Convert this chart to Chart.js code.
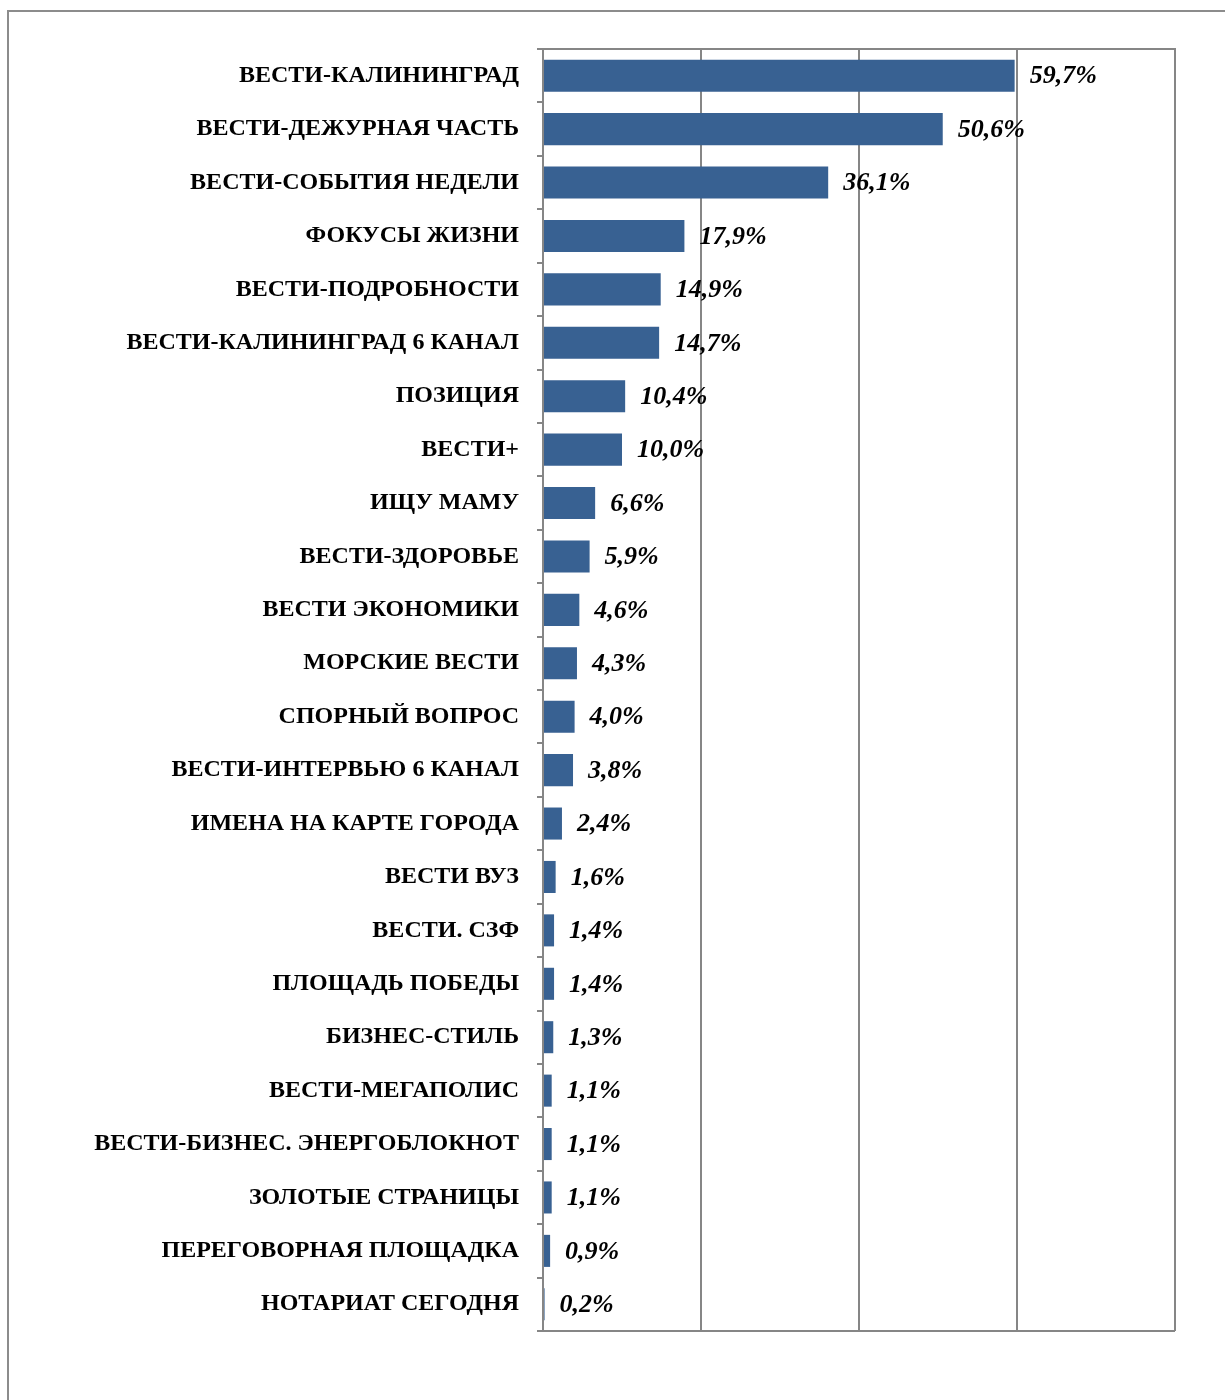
<!DOCTYPE html>
<html>
<head>
<meta charset="utf-8">
<script src="https://cdn.jsdelivr.net/npm/chart.js@4/dist/chart.umd.min.js"></script>
<style>
html,body{margin:0;padding:0;background:#fff;}
#wrap{width:1225px;height:1400px;position:relative;}
</style>
</head>
<body>
<div id="wrap"><canvas id="c" width="1225" height="1400"></canvas></div>
<script>
const categories = [
  "ВЕСТИ-КАЛИНИНГРАД",
  "ВЕСТИ-ДЕЖУРНАЯ ЧАСТЬ",
  "ВЕСТИ-СОБЫТИЯ НЕДЕЛИ",
  "ФОКУСЫ ЖИЗНИ",
  "ВЕСТИ-ПОДРОБНОСТИ",
  "ВЕСТИ-КАЛИНИНГРАД 6 КАНАЛ",
  "ПОЗИЦИЯ",
  "ВЕСТИ+",
  "ИЩУ МАМУ",
  "ВЕСТИ-ЗДОРОВЬЕ",
  "ВЕСТИ ЭКОНОМИКИ",
  "МОРСКИЕ ВЕСТИ",
  "СПОРНЫЙ ВОПРОС",
  "ВЕСТИ-ИНТЕРВЬЮ 6 КАНАЛ",
  "ИМЕНА НА КАРТЕ ГОРОДА",
  "ВЕСТИ ВУЗ",
  "ВЕСТИ. СЗФ",
  "ПЛОЩАДЬ ПОБЕДЫ",
  "БИЗНЕС-СТИЛЬ",
  "ВЕСТИ-МЕГАПОЛИС",
  "ВЕСТИ-БИЗНЕС. ЭНЕРГОБЛОКНОТ",
  "ЗОЛОТЫЕ СТРАНИЦЫ",
  "ПЕРЕГОВОРНАЯ ПЛОЩАДКА",
  "НОТАРИАТ СЕГОДНЯ"
];
const values = [59.7, 50.6, 36.1, 17.9, 14.9, 14.7, 10.4, 10.0, 6.6, 5.9, 4.6, 4.3, 4.0, 3.8, 2.4, 1.6, 1.4, 1.4, 1.3, 1.1, 1.1, 1.1, 0.9, 0.2];
const axisMin = 0, axisMax = 80, axisStep = 20;

const GRID = '#868686';

const framePlugin = {
  id: 'frame',
  beforeDraw(chart) {
    const ctx = chart.ctx;
    ctx.save();
    ctx.fillStyle = '#fff';
    ctx.fillRect(0, 0, chart.width, chart.height);
    ctx.strokeStyle = '#8c8c8c';
    ctx.lineWidth = 2;
    ctx.strokeRect(8, 11, chart.width + 20, chart.height + 20);
    ctx.restore();
  },
  afterDatasetsDraw(chart) {
    const ctx = chart.ctx;
    const a = chart.chartArea;
    ctx.save();
    ctx.strokeStyle = GRID;
    ctx.lineWidth = 2;
    ctx.beginPath();
    ctx.moveTo(a.left - 6, a.top);
    ctx.lineTo(a.right, a.top);
    ctx.lineTo(a.right, a.bottom);
    ctx.moveTo(a.left - 6, a.bottom);
    ctx.lineTo(a.right, a.bottom);
    ctx.stroke();
    // data labels
    const meta = chart.getDatasetMeta(0);
    ctx.fillStyle = '#000';
    ctx.font = 'italic bold 26px "Liberation Serif", "Times New Roman", serif';
    ctx.textAlign = 'left';
    ctx.textBaseline = 'middle';
    meta.data.forEach((bar, i) => {
      const txt = values[i].toFixed(1).replace('.', ',') + '%';
      ctx.fillText(txt, bar.x + 15, bar.y + 1);
    });
    ctx.restore();
  }
};

new Chart(document.getElementById('c'), {
  type: 'bar',
  data: {
    labels: categories,
    datasets: [{
      data: values,
      backgroundColor: '#386192',
      borderWidth: 0,
      barPercentage: 0.6,
      categoryPercentage: 1.0
    }]
  },
  options: {
    indexAxis: 'y',
    responsive: false,
    animation: false,
    layout: { padding: { left: 0, top: 49, right: 50, bottom: 69 } },
    plugins: { legend: { display: false }, tooltip: { enabled: false }, title: { display: false } },
    scales: {
      x: {
        min: axisMin, max: axisMax,
        ticks: { display: false, stepSize: axisStep },
        grid: { color: GRID, lineWidth: 2, drawTicks: false },
        border: { display: false },
        afterFit(s) { s.height = 0; }
      },
      y: {
        ticks: {
          color: '#000',
          padding: 18,
          font: { family: '"Liberation Serif", "Times New Roman", serif', size: 24, weight: 'bold' }
        },
        grid: { offset: true, drawOnChartArea: false, color: GRID, lineWidth: 2, tickLength: 6 },
        border: { display: true, color: GRID, width: 2 },
        afterFit(s) { s.width = 543; }
      }
    }
  },
  plugins: [framePlugin]
});
</script>
</body>
</html>
